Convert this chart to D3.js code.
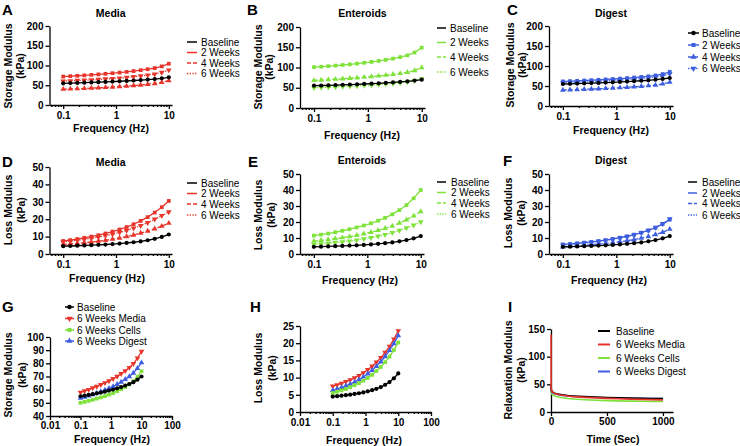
<!DOCTYPE html>
<html>
<head>
<meta charset="utf-8">
<script src="https://d3js.org/d3.v7.min.js"></script>
<style>
  body { margin: 0; background: #fff; }
  svg { font-family: "Liberation Sans", Arial, Helvetica, sans-serif; }
  .axis path, .axis line { stroke: #000; stroke-width: 1.3px; }
  .axis .tick text { font-weight: bold; font-size: 10px; fill: #000; }
  .legend text { font-size: 10px; fill: #000; }
</style>
</head>
<body>
<svg id="chart" width="740" height="446"></svg>
<script>
// ---- data ----
var freqs = [0.1, 0.136, 0.185, 0.251, 0.341, 0.464, 0.631, 0.858, 1.17, 1.59, 2.15, 2.93, 3.98, 5.41, 7.36, 10];

var baseStorage = [55.0, 55.5, 56.0, 56.6, 57.2, 57.8, 58.5, 59.3, 60.1, 61.0, 62.0, 63.1, 64.3, 65.7, 67.6, 70.0];
var baseLoss = [4.5, 4.6, 4.75, 4.9, 5.05, 5.25, 5.45, 5.7, 6.0, 6.35, 6.75, 7.25, 7.9, 8.7, 9.8, 11.2];

var mediaStorage2W = [72.0, 73.0, 74.0, 75.1, 76.3, 77.6, 79.0, 80.5, 82.1, 83.9, 85.9, 88.1, 90.6, 93.5, 97.8, 104.5];
var mediaStorage4W = [40.0, 40.6, 41.3, 42.0, 42.8, 43.6, 44.5, 45.5, 46.6, 47.8, 49.1, 50.6, 52.3, 54.3, 57.3, 61.5];
var mediaStorage6W = [60.5, 61.2, 62.0, 62.8, 63.7, 64.7, 65.8, 67.0, 68.3, 69.8, 71.5, 73.4, 75.6, 78.2, 82.5, 88.5];

var enteroidStorage2W = [101, 102, 103.3, 104.7, 106.2, 107.8, 109.6, 111.6, 113.8, 116.2, 118.9, 122.0, 125.6, 130.0, 137.0, 149.0];
var enteroidStorage4W = [68, 69, 70, 71.1, 72.2, 73.4, 74.7, 76.1, 77.6, 79.2, 81.0, 83.0, 85.3, 88.0, 92.5, 100.0];
var enteroidStorage6W = [50, 50.7, 51.4, 52.1, 52.9, 53.7, 54.6, 55.6, 56.7, 57.9, 59.2, 60.7, 62.4, 64.4, 67.5, 72.0];

var digestStorage2W = [61.5, 62.2, 63.0, 63.8, 64.6, 65.5, 66.5, 67.5, 68.6, 69.8, 71.1, 72.6, 74.3, 76.4, 79.8, 85.5];
var digestStorage4W = [40.0, 40.5, 41.1, 41.7, 42.4, 43.1, 43.9, 44.8, 45.8, 46.8, 47.9, 49.2, 50.7, 52.5, 55.2, 59.5];
var digestStorage6W = [58.0, 58.6, 59.3, 60.0, 60.8, 61.6, 62.5, 63.5, 64.6, 65.8, 67.1, 68.6, 70.3, 72.4, 75.5, 80.5];

var mediaLoss2W = [7.5, 8.0, 8.6, 9.3, 10.0, 10.8, 11.8, 12.9, 14.1, 15.5, 17.1, 19.0, 21.2, 23.8, 26.9, 30.5];
var mediaLoss4W = [5.5, 5.8, 6.1, 6.5, 6.9, 7.4, 7.9, 8.5, 9.2, 10.0, 10.9, 12.0, 13.2, 14.5, 16.0, 17.7];
var mediaLoss6W = [7.0, 7.4, 7.9, 8.4, 9.0, 9.7, 10.5, 11.4, 12.4, 13.5, 14.8, 16.3, 18.0, 20.0, 22.0, 24.2];

var enteroidLoss2W = [11.5, 12.1, 12.8, 13.6, 14.5, 15.5, 16.6, 17.8, 19.2, 20.8, 22.6, 24.8, 27.4, 30.6, 34.8, 40.0];
var enteroidLoss4W = [8.0, 8.5, 9.0, 9.6, 10.2, 10.9, 11.7, 12.6, 13.6, 14.7, 16.0, 17.5, 19.3, 21.4, 23.8, 26.5];
var enteroidLoss6W = [6.0, 6.3, 6.7, 7.1, 7.6, 8.1, 8.7, 9.4, 10.2, 11.1, 12.1, 13.3, 14.7, 16.3, 18.0, 20.0];

var digestLoss2W = [6.0, 6.3, 6.7, 7.1, 7.6, 8.1, 8.7, 9.4, 10.2, 11.1, 12.1, 13.3, 14.7, 16.4, 18.7, 21.5];
var digestLoss4W = [4.5, 4.8, 5.1, 5.4, 5.8, 6.2, 6.6, 7.1, 7.7, 8.3, 9.0, 9.9, 10.9, 12.1, 13.6, 15.5];
var digestLoss6W = [5.5, 5.9, 6.3, 6.8, 7.3, 7.9, 8.5, 9.2, 10.0, 10.9, 12.0, 13.3, 14.8, 16.6, 19.0, 22.0];

var storage6WMedia = [58.0, 59.0, 60.1, 61.3, 62.5, 63.8, 65.2, 66.7, 68.3, 70.1, 72.1, 74.3, 76.8, 79.8, 84.0, 89.0];
var storage6WCells = [50.0, 50.7, 51.5, 52.3, 53.2, 54.1, 55.1, 56.2, 57.4, 58.8, 60.3, 62.0, 64.0, 66.4, 69.8, 74.0];
var storage6WDigest = [53.5, 54.4, 55.3, 56.3, 57.4, 58.5, 59.7, 61.0, 62.4, 64.0, 65.8, 67.8, 70.0, 72.6, 76.2, 80.5];

var loss6WMedia = [7.5, 7.9, 8.3, 8.8, 9.3, 9.9, 10.6, 11.4, 12.3, 13.3, 14.5, 15.8, 17.3, 19.1, 21.2, 23.6];
var loss6WCells = [5.5, 5.9, 6.3, 6.7, 7.2, 7.8, 8.4, 9.1, 9.9, 10.8, 11.9, 13.1, 14.5, 16.1, 18.0, 20.2];
var loss6WDigest = [6.3, 6.7, 7.1, 7.6, 8.1, 8.7, 9.4, 10.2, 11.1, 12.1, 13.3, 14.6, 16.1, 17.9, 19.9, 22.2];

var timeSec = [0, 1, 3, 6, 10, 20, 35, 50, 75, 100, 150, 200, 300, 400, 500, 600, 700, 800, 900, 1000];
var relaxBaseline = [50, 44, 40, 38.5, 37, 35.5, 34, 33, 32, 31, 29.8, 29, 27.8, 27, 26.2, 25.6, 25.1, 24.7, 24.4, 24.2];
var relaxMedia = [140, 46, 41, 38.5, 37, 35, 33.5, 32.5, 31.2, 30.2, 28.8, 27.8, 26.5, 25.5, 24.6, 23.9, 23.3, 22.8, 22.4, 22.0];
var relaxCells = [42, 37, 34.5, 33, 32, 30.5, 29, 28, 26.8, 25.8, 24.5, 23.5, 22.2, 21.3, 20.6, 20.1, 19.7, 19.4, 19.1, 18.9];
var relaxDigest = [45, 40.5, 38, 36.5, 35.5, 34, 32.8, 32, 30.8, 30, 28.8, 28, 27, 26.2, 25.6, 25.2, 24.9, 24.7, 24.5, 24.3];

var weekLabels = ['Baseline', '2 Weeks', '4 Weeks', '6 Weeks'];
var groupLabels = ['Baseline', '6 Weeks Media', '6 Weeks Cells', '6 Weeks Digest'];

var freqTicksShort = [0.1, 1, 10];
var freqTicksWide = [0.01, 0.1, 1, 10, 100];
var storageTicks = [0, 50, 100, 150, 200];
var lossTicks = [0, 10, 20, 30, 40, 50];
var storageTicksG = [40, 50, 60, 70, 80, 90, 100];
var lossTicksH = [0, 5, 10, 15, 20, 25];
var relaxTicks = [0, 50, 100, 150];
var timeTicks = [0, 500, 1000];

// ---- styles ----
var RED = '#e8352b', GREEN = '#7ee23a', BLUE = '#3e5ee0', BLACK = '#000';
var SOLID = null, DASH = '4,2', DOT = '1.3,1.4';

var svg = d3.select('#chart');

function weekSeries(color, vals) {
  return [
    {values: vals[0], color: BLACK, dash: SOLID, sym: d3.symbolCircle, rot: 0},
    {values: vals[1], color: color, dash: SOLID, sym: d3.symbolSquare, rot: 0},
    {values: vals[2], color: color, dash: DASH, sym: d3.symbolTriangle, rot: 0},
    {values: vals[3], color: color, dash: DOT, sym: d3.symbolTriangle, rot: 180}
  ];
}

function groupSeries(vals) {
  return [
    {values: vals[1], color: RED, dash: SOLID, sym: d3.symbolTriangle, rot: 180},
    {values: vals[3], color: BLUE, dash: SOLID, sym: d3.symbolTriangle, rot: 0},
    {values: vals[2], color: GREEN, dash: SOLID, sym: d3.symbolSquare, rot: 0},
    {values: vals[0], color: BLACK, dash: SOLID, sym: d3.symbolCircle, rot: 0}
  ];
}

function isMajor(t) {
  var l = Math.log10(t);
  return Math.abs(l - Math.round(l)) < 1e-6;
}

function drawPanel(p) {
  var g = svg.append('g');
  var x = p.xLog ? d3.scaleLog() : d3.scaleLinear();
  x.domain(p.xDomain).range([p.x0, p.x1]);
  var y = d3.scaleLinear().domain(p.yDomain).range([p.yBot, p.yTop]);
  var pad = p.tickPad || 3;

  // panel letter
  g.append('text').attr('x', p.letter[1]).attr('y', p.letter[2])
    .attr('font-size', 15).attr('font-weight', 'bold').text(p.letter[0]);

  if (p.title) {
    g.append('text').attr('x', (p.x0 + p.x1) / 2).attr('y', p.titleY)
      .attr('text-anchor', 'middle').attr('dominant-baseline', 'central')
      .attr('font-size', 10.5).attr('font-weight', 'bold').text(p.title);
  }

  // x minor ticks
  if (p.xLog) {
    var minor = x.ticks().filter(t => !isMajor(t));
    g.append('g').attr('class', 'axis')
      .attr('transform', `translate(0,${p.yBot})`)
      .call(d3.axisBottom(x).tickValues(minor).tickSize(2).tickFormat('').tickSizeOuter(0))
      .select('.domain').remove();
  }
  g.append('g').attr('class', 'axis')
    .attr('transform', `translate(0,${p.yBot})`)
    .call(d3.axisBottom(x).tickValues(p.xTicks).tickSize(4).tickPadding(pad).tickSizeOuter(0)
      .tickFormat(d => String(d)));

  g.append('g').attr('class', 'axis')
    .attr('transform', `translate(${p.x0},0)`)
    .call(d3.axisLeft(y).tickValues(p.yTicks).tickSize(4).tickPadding(2).tickSizeOuter(0));

  // axis titles
  g.append('text').attr('x', p.xLabel[1]).attr('y', p.xLabel[2])
    .attr('text-anchor', 'middle').attr('dominant-baseline', 'central')
    .attr('font-size', 10.5).attr('font-weight', 'bold').text(p.xLabel[0]);

  p.yLabel.forEach(function(lab) {
    g.append('text')
      .attr('transform', `translate(${lab[1]},${p.yLabelY}) rotate(-90)`)
      .attr('text-anchor', 'middle').attr('dominant-baseline', 'central')
      .attr('font-size', 10.5).attr('font-weight', 'bold').text(lab[0]);
  });

  // series
  var xs = p.xs;
  var line = d3.line().x((d, i) => x(xs[i])).y(d => y(d));
  p.series.forEach(function(s) {
    g.append('path').datum(s.values)
      .attr('d', line).attr('fill', 'none')
      .attr('stroke', s.color).attr('stroke-width', p.lineWidth || 1.3)
      .attr('stroke-dasharray', s.dash);
    if (p.markers) {
      g.selectAll(null).data(s.values).join('path')
        .attr('transform', (d, i) => `translate(${x(xs[i])},${y(d)}) rotate(${s.rot})`)
        .attr('d', d3.symbol().type(s.sym).size(14))
        .attr('fill', s.color);
    }
  });

  // legend
  var L = p.legend;
  if (!L) return;
  var lg = g.append('g').attr('class', 'legend');
  L.items.forEach(function(it, i) {
    var yy = L.rows[i];
    lg.append('line').attr('x1', L.x1).attr('x2', L.x2).attr('y1', yy).attr('y2', yy)
      .attr('stroke', it.color).attr('stroke-width', L.width || 1.5)
      .attr('stroke-dasharray', it.dash);
    if (L.markers) {
      lg.append('path')
        .attr('transform', `translate(${(L.x1 + L.x2) / 2},${yy}) rotate(${it.rot})`)
        .attr('d', d3.symbol().type(it.sym).size(16)).attr('fill', it.color);
    }
    lg.append('text').attr('x', L.tx).attr('y', yy).attr('dominant-baseline', 'central')
      .attr('font-size', L.fontSize || 10).text(L.labels[i]);
  });
}

// ---- panels ----
var topBase = {xLog: true, xDomain: [0.055, 11.5], xTicks: freqTicksShort, xs: freqs, markers: true};

var aSeries = weekSeries(RED, [baseStorage, mediaStorage2W, mediaStorage4W, mediaStorage6W]);
var bSeries = weekSeries(GREEN, [baseStorage, enteroidStorage2W, enteroidStorage4W, enteroidStorage6W]);
var cSeries = weekSeries(BLUE, [baseStorage, digestStorage2W, digestStorage4W, digestStorage6W]);
var dSeries = weekSeries(RED, [baseLoss, mediaLoss2W, mediaLoss4W, mediaLoss6W]);
var eSeries = weekSeries(GREEN, [baseLoss, enteroidLoss2W, enteroidLoss4W, enteroidLoss6W]);
var fSeries = weekSeries(BLUE, [baseLoss, digestLoss2W, digestLoss4W, digestLoss6W]);

function drawOrder(s) { return [s[1], s[2], s[3], s[0]]; }

drawPanel(Object.assign({}, topBase, {
  letter: ['A', 2, 15], title: 'Media', titleY: 13,
  x0: 49.5, x1: 172, yTop: 26, yBot: 105, yDomain: [0, 200], yTicks: storageTicks,
  xLabel: ['Frequency (Hz)', 111, 128], yLabel: [['Storage Modulus', 8], ['(kPa)', 20]], yLabelY: 66,
  series: drawOrder(aSeries),
  legend: {x1: 187, x2: 197, tx: 201, rows: [42, 52.5, 63, 73.5], items: aSeries, labels: weekLabels}
}));

drawPanel(Object.assign({}, topBase, {
  letter: ['B', 247, 15], title: 'Enteroids', titleY: 13,
  x0: 300, x1: 425, yTop: 27, yBot: 108, yDomain: [0, 200], yTicks: storageTicks,
  xLabel: ['Frequency (Hz)', 362, 135], yLabel: [['Storage Modulus', 258], ['(kPa)', 269]], yLabelY: 67,
  series: drawOrder(bSeries),
  legend: {x1: 437, x2: 446, tx: 450, rows: [28, 42.5, 57, 72], items: bSeries, labels: weekLabels}
}));

drawPanel(Object.assign({}, topBase, {
  letter: ['C', 507, 15], title: 'Digest', titleY: 13,
  x0: 549, x1: 673, yTop: 26, yBot: 106, yDomain: [0, 200], yTicks: storageTicks,
  xLabel: ['Frequency (Hz)', 611, 130], yLabel: [['Storage Modulus', 510], ['(kPa)', 522]], yLabelY: 65,
  series: drawOrder(cSeries),
  legend: {x1: 688, x2: 699, tx: 702, rows: [33, 45, 57, 68.5], items: cSeries, labels: weekLabels, markers: true}
}));

drawPanel(Object.assign({}, topBase, {
  letter: ['D', 2, 167], title: 'Media', titleY: 162,
  x0: 49.5, x1: 172, yTop: 167, yBot: 254, yDomain: [0, 50], yTicks: lossTicks,
  xLabel: ['Frequency (Hz)', 107, 278], yLabel: [['Loss Modulus', 8], ['(kPa)', 21]], yLabelY: 210,
  series: drawOrder(dSeries),
  legend: {x1: 187, x2: 197, tx: 201, rows: [183, 193.5, 204, 215], items: dSeries, labels: weekLabels}
}));

drawPanel(Object.assign({}, topBase, {
  letter: ['E', 248, 167], title: 'Enteroids', titleY: 160,
  x0: 300, x1: 424, yTop: 174, yBot: 254, yDomain: [0, 50], yTicks: lossTicks,
  xLabel: ['Frequency (Hz)', 360, 280], yLabel: [['Loss Modulus', 258], ['(kPa)', 271]], yLabelY: 215,
  series: drawOrder(eSeries),
  legend: {x1: 437, x2: 446, tx: 451, rows: [182, 192.5, 203, 214], items: eSeries, labels: weekLabels}
}));

drawPanel(Object.assign({}, topBase, {
  letter: ['F', 503, 166], title: 'Digest', titleY: 160,
  x0: 549, x1: 673, yTop: 174, yBot: 254, yDomain: [0, 50], yTicks: lossTicks,
  xLabel: ['Frequency (Hz)', 609, 280], yLabel: [['Loss Modulus', 508], ['(kPa)', 521]], yLabelY: 213,
  series: drawOrder(fSeries),
  legend: {x1: 688, x2: 697, tx: 702, rows: [182, 193, 203.5, 215], items: fSeries, labels: weekLabels}
}));

var gSeries = groupSeries([baseStorage, storage6WMedia, storage6WCells, storage6WDigest]);
var gLegendItems = [gSeries[3], gSeries[0], gSeries[2], gSeries[1]];
drawPanel({
  letter: ['G', 2, 312], xLog: true, xDomain: [0.01, 100], xTicks: freqTicksWide, xs: freqs, markers: true,
  tickPad: 1.5,
  x0: 50, x1: 172, yTop: 337, yBot: 416, yDomain: [40, 100], yTicks: storageTicksG,
  xLabel: ['Frequency (Hz)', 112, 438.5], yLabel: [['Storage Modulus', 8], ['(kPa)', 22]], yLabelY: 375,
  series: gSeries,
  legend: {x1: 65, x2: 74, tx: 77, rows: [307, 318.5, 330, 341], items: gLegendItems, labels: groupLabels, markers: true}
});

var hSeries = groupSeries([baseLoss, loss6WMedia, loss6WCells, loss6WDigest]);
drawPanel({
  letter: ['H', 250, 312], xLog: true, xDomain: [0.01, 100], xTicks: freqTicksWide, xs: freqs, markers: true,
  tickPad: 2.5,
  x0: 300, x1: 431, yTop: 326, yBot: 412, yDomain: [0, 25], yTicks: lossTicksH,
  xLabel: ['Frequency (Hz)', 364, 439.5], yLabel: [['Loss Modulus', 258], ['(kPa)', 272]], yLabelY: 368,
  series: hSeries
});

var iSeries = [
  {values: relaxCells, color: GREEN, dash: SOLID},
  {values: relaxDigest, color: BLUE, dash: SOLID},
  {values: relaxBaseline, color: BLACK, dash: SOLID},
  {values: relaxMedia, color: RED, dash: SOLID}
];
drawPanel({
  letter: ['I', 508, 312], xLog: false, xDomain: [0, 1090], xTicks: timeTicks, xs: timeSec, markers: false,
  lineWidth: 1.6, tickPad: 1.5,
  x0: 551, x1: 673, yTop: 329, yBot: 412, yDomain: [0, 150], yTicks: relaxTicks,
  xLabel: ['Time (Sec)', 613, 438.5], yLabel: [['Relaxation Modulus', 508], ['(kPa)', 521]], yLabelY: 370,
  series: iSeries,
  legend: {x1: 598, x2: 610, tx: 616, rows: [331, 344.5, 358, 371.5], width: 2, fontSize: 8,
    items: [iSeries[2], iSeries[3], iSeries[0], iSeries[1]], labels: groupLabels}
});
</script>
</body>
</html>
